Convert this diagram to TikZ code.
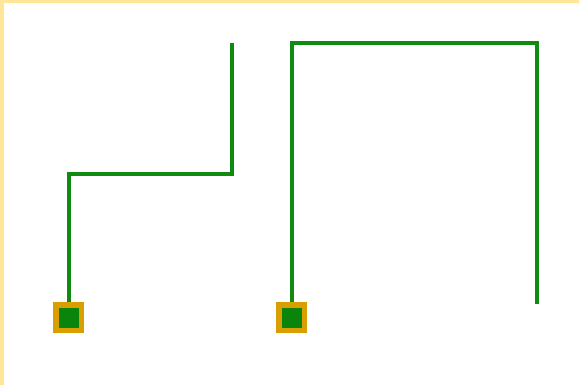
\documentclass[tikz,border=0pt]{standalone}
\definecolor{wire}{HTML}{108A10}
\definecolor{padedge}{HTML}{D99E00}
\definecolor{padfill}{HTML}{0A840A}
\definecolor{frame}{HTML}{FFE699}
\tikzset{
  wireline/.style={draw=wire, line width=4pt, line cap=butt, line join=miter},
  pad/.style={draw=none, fill=padedge, minimum size=31pt, inner sep=0pt, outer sep=0pt,
    path picture={\fill[padfill] ([shift={(-10pt,-10pt)}]path picture bounding box.center) rectangle ([shift={(10pt,10pt)}]path picture bounding box.center);}}
}
\begin{document}
\begin{tikzpicture}[x=1pt,y=-1pt]
\useasboundingbox (0,0) rectangle (579,385);
\fill[white] (0,0) rectangle (579,385);
\fill[frame] (0,0) rectangle (579,3.5);
\fill[frame] (0,0) rectangle (3.5,385);
\node[pad] (p1) at (68.5,317.5) {};
\node[pad] (p2) at (291.5,317.5) {};
\coordinate (a1) at (68.5,174);
\coordinate (a2) at (232,174);
\coordinate (a3) at (232,43.5);
\coordinate (b1) at (291.5,43.5);
\coordinate (b2) at (537,43.5);
\coordinate (b3) at (537,304);
\draw[wireline] (p1.north) -- (a1) -- (a2) -- (a3);
\draw[wireline] (p2.north) -- (b1) -- (b2) -- (b3);
\end{tikzpicture}
\end{document}
